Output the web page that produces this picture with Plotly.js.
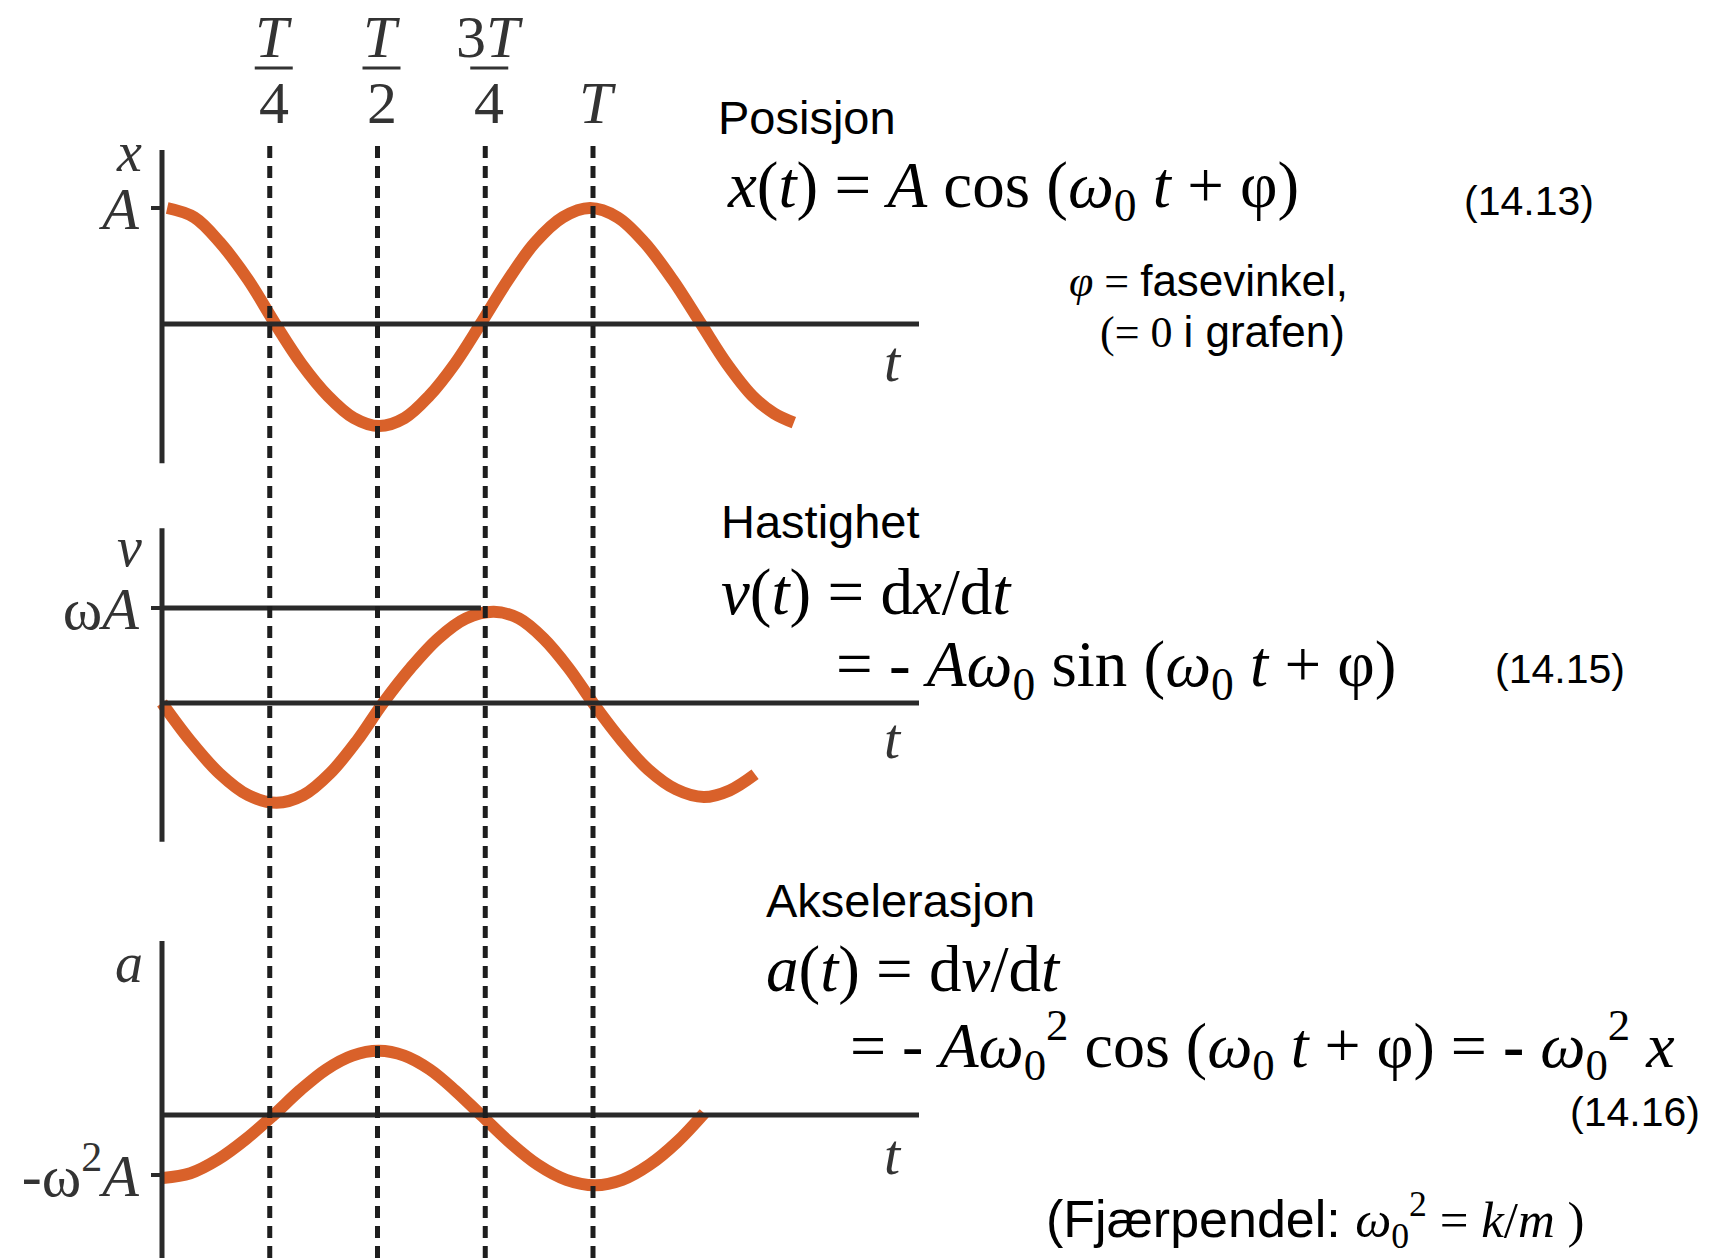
<!DOCTYPE html>
<html><head><meta charset="utf-8">
<script src="https://cdn.plot.ly/plotly-3.0.1.min.js"></script>
<style>html,body{margin:0;padding:0;background:#fff;overflow:hidden;} #chart{width:1720px;height:1258px;}</style>
</head><body><div id="chart"></div>
<script>
// ---- data (t in units of the period T, values in units of the amplitude) ----
const tPos = [0.012, 0.075, 0.135, 0.2, 0.263, 0.323, 0.385, 0.445, 0.504, 0.563, 0.62, 0.68, 0.739, 0.803, 0.865, 0.93, 0.993, 1.057, 1.12, 1.185, 1.251, 1.31, 1.37, 1.42, 1.466];
const posVals = [1.0, 0.92, 0.7, 0.38, 0.0, -0.34, -0.62, -0.81, -0.88, -0.81, -0.62, -0.34, 0.0, 0.38, 0.7, 0.92, 1.0, 0.92, 0.7, 0.38, 0.0, -0.34, -0.62, -0.77, -0.85];
const tVel = [0.0, 0.066, 0.133, 0.2, 0.266, 0.328, 0.39, 0.452, 0.513, 0.577, 0.641, 0.705, 0.77, 0.828, 0.885, 0.943, 1.0, 1.064, 1.128, 1.193, 1.257, 1.317, 1.376];
const velVals = [0.0, -0.4, -0.74, -0.97, -1.05, -0.97, -0.74, -0.4, 0.0, 0.37, 0.68, 0.89, 0.96, 0.89, 0.68, 0.37, 0.0, -0.38, -0.7, -0.91, -0.99, -0.92, -0.75];
const tAcc = [0.002, 0.066, 0.13, 0.195, 0.259, 0.32, 0.381, 0.442, 0.503, 0.562, 0.621, 0.68, 0.74, 0.806, 0.872, 0.938, 1.005, 1.068, 1.131, 1.195, 1.258];
const accVals = [-1.05, -0.97, -0.74, -0.4, 0.0, 0.41, 0.76, 0.99, 1.07, 0.99, 0.76, 0.41, 0.0, -0.45, -0.83, -1.08, -1.17, -1.08, -0.83, -0.45, 0.03];
const periodTicks = [0.25, 0.5, 0.75, 1.0];
const tickNumerators = ['<i>T</i>', '<i>T</i>', '3<i>T</i>', '<i>T</i>'];
const tickDenominators = ['4', '2', '4', ''];
const axisNames = ['<i>x</i>', '<i>v</i>', '<i>a</i>'];
const ampTickVals = [1, 1, -1];
const ampTickText = ['<i>A</i>', 'ω<i>A</i>', '-ω<sup>2</sup><i>A</i>'];

// ---- layout helpers ----
const W = 1720, H = 1258;
const X0PX = 162, TPX = 431;            // pixel of t=0 and pixels per period
const xRange = [-X0PX / TPX, (W - X0PX) / TPX];
function yr(zeroPx, unitPx) { return [(zeroPx - H) / unitPx, zeroPx / unitPx]; }
const panels = [
  {ax: 'y',  zero: 324,  unit: 116, vTop: 1.5,  vBot: -1.2},
  {ax: 'y2', zero: 703,  unit: 95,  vTop: 1.84, vBot: -1.46},
  {ax: 'y3', zero: 1115, unit: 60,  vTop: 2.9,  vBot: -2.5}
];
const tAxisEnd = (919 - X0PX) / TPX;
const ORANGE = '#D9612A', DARK = '#2a2a2a';
const SERIF = 'Liberation Serif, Times New Roman, serif';
const SANS = 'Liberation Sans, Arial, sans-serif';
function px(x) { return x / W; }
function py(y) { return 1 - y / H; }

const traces = [];
const curves = [[tPos, posVals], [tVel, velVals], [tAcc, accVals]];
curves.forEach((c, i) => {
  traces.push({x: c[0], y: c[1], yaxis: panels[i].ax, type: 'scatter', mode: 'lines',
    line: {color: ORANGE, width: 12, shape: 'spline', smoothing: 1}, hoverinfo: 'skip'});
});
panels.forEach((p) => {
  traces.push({x: [0, 0], y: [p.vBot, p.vTop], yaxis: p.ax, mode: 'lines',
    line: {color: DARK, width: 5}, hoverinfo: 'skip'});
  traces.push({x: [0, tAxisEnd], y: [0, 0], yaxis: p.ax, mode: 'lines',
    line: {color: DARK, width: 5}, hoverinfo: 'skip'});
});
// ωA reference line up to the velocity maximum
traces.push({x: [0, tVel[12] - 0.03], y: [ampTickVals[1], ampTickVals[1]], yaxis: 'y2', mode: 'lines',
  line: {color: DARK, width: 5}, hoverinfo: 'skip'});

const shapes = [];
const annotations = [];
periodTicks.forEach((t, i) => {
  shapes.push({type: 'line', xref: 'x', yref: 'paper', x0: t, x1: t, y0: 0, y1: py(143),
    line: {color: '#1e1e1e', width: 5, dash: '12px,8px'}, layer: 'above'});
  const hasDen = tickDenominators[i] !== '';
  annotations.push({xref: 'x', yref: 'paper', x: t, xshift: 4, y: hasDen ? py(37) : py(103),
    text: tickNumerators[i], showarrow: false, xanchor: 'center', yanchor: 'middle',
    font: {family: SERIF, size: 60, color: '#333'}});
  if (hasDen) {
    const hw = tickNumerators[i].length > 9 ? 34 : 19;
    shapes.push({type: 'line', xref: 'x', yref: 'paper', xsizemode: 'pixel', xanchor: t,
      x0: -hw + 4, x1: hw + 4, y0: py(68), y1: py(68), line: {color: '#333', width: 3}});
    annotations.push({xref: 'x', yref: 'paper', x: t, xshift: 4, y: py(103),
      text: tickDenominators[i], showarrow: false, xanchor: 'center', yanchor: 'middle',
      font: {family: SERIF, size: 60, color: '#333'}});
  }
});
// axis names and t labels
const namePx = [152, 547, 963];
const tLabelPx = [361, 738, 1154];
panels.forEach((p, i) => {
  annotations.push({xref: 'paper', yref: 'paper', x: px(129), y: py(namePx[i]), text: axisNames[i],
    showarrow: false, xanchor: 'center', yanchor: 'middle', font: {family: SERIF, size: 56, color: '#333'}});
  annotations.push({xref: 'paper', yref: 'paper', x: px(893), y: py(tLabelPx[i]), text: '<i>t</i>',
    showarrow: false, xanchor: 'center', yanchor: 'middle', font: {family: SERIF, size: 58, color: '#333'}});
});
function txt(x, y, text, family, size) {
  annotations.push({xref: 'paper', yref: 'paper', x: px(x), y: py(y), text: text, showarrow: false,
    xanchor: 'left', yanchor: 'middle', font: {family: family, size: size, color: '#000'}});
}
const S = (s, sz) => '<span style="font-family:Liberation Sans' + (sz ? ';font-size:' + sz + 'px' : '') + '">' + s + '</span>';
txt(716, 117, 'Posisjon', SANS, 47);
txt(725, 190, '<i>x</i>(<i>t</i>) = <i>A</i> cos (<i>ω</i><sub>0</sub> <i>t</i> + φ)', SERIF, 65);
txt(1462, 201, '(14.13)', SANS, 41);
txt(1067, 281, '<i>φ</i> = ' + S('fasevinkel,'), SERIF, 44);
txt(1098, 332, '(= 0 ' + S('i grafen)'), SERIF, 44);
txt(719, 521, 'Hastighet', SANS, 47);
txt(719, 592, '<i>v</i>(<i>t</i>) = d<i>x</i>/d<i>t</i>', SERIF, 65);
txt(834, 669, '= - <i>Aω</i><sub>0</sub> sin (<i>ω</i><sub>0</sub> <i>t</i> + φ)', SERIF, 65);
txt(1493, 669, '(14.15)', SANS, 41);
txt(764, 969, '<i>a</i>(<i>t</i>) = d<i>v</i>/d<i>t</i>', SERIF, 65);
txt(764, 900, 'Akselerasjon', SANS, 47);
txt(848, 1045, '= - <i>Aω</i><sub>0</sub><sup>2</sup> cos (<i>ω</i><sub>0</sub> <i>t</i> + φ) = <b>-</b> <i>ω</i><sub>0</sub><sup>2</sup> <i>x</i>', SERIF, 64);
txt(1568, 1112, '(14.16)', SANS, 41);
txt(1044, 1220, S('(Fjærpendel: ', 52) + '<i>ω</i><sub>0</sub><sup>2</sup> = <i>k</i>/<i>m</i> )', SERIF, 51);

function yAxis(i, extra) {
  const p = panels[i];
  return Object.assign({domain: [0, 1], range: yr(p.zero, p.unit), anchor: 'free', position: X0PX / W,
    showgrid: false, zeroline: false, showline: false, fixedrange: true,
    tickmode: 'array', tickvals: [ampTickVals[i]], ticktext: [ampTickText[i]],
    ticks: 'outside', ticklen: 11, tickwidth: 4, tickcolor: DARK,
    tickfont: {family: SERIF, size: 60, color: '#333'}}, extra || {});
}

const layout = {
  width: W, height: H, margin: {l: 0, r: 0, t: 0, b: 0, pad: 0}, showlegend: false,
  paper_bgcolor: '#fff', plot_bgcolor: '#fff',
  xaxis: {domain: [0, 1], range: xRange, visible: false, fixedrange: true},
  yaxis: yAxis(0),
  yaxis2: yAxis(1, {overlaying: 'y'}),
  yaxis3: yAxis(2, {overlaying: 'y'}),
  shapes: shapes, annotations: annotations
};
Plotly.newPlot('chart', traces, layout, {staticPlot: true, displayModeBar: false});
</script></body></html>
